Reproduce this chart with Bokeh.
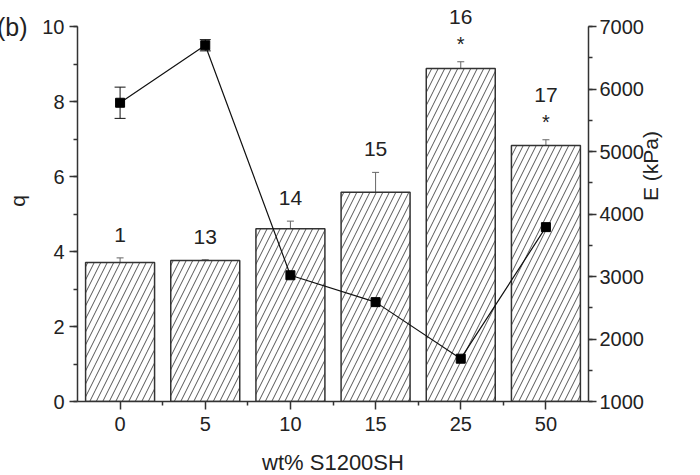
import math
from bokeh.plotting import figure
from bokeh.models import (ColumnDataSource, Range1d, LinearAxis, FixedTicker, SingleIntervalTicker,
                          Whisker, TeeHead, LabelSet)
from bokeh.core.properties import value
from bokeh.embed import file_html
from bokeh.resources import INLINE

categories = ["0", "5", "10", "15", "25", "50"]
q_values = [3.71, 3.76, 4.61, 5.58, 8.88, 6.83]
q_errors = [0.12, 0.02, 0.20, 0.53, 0.18, 0.15]
E_values = [5780, 6700, 3020, 2590, 1685, 3790]
E_errors = [250, 90, 60, 80, 30, 210]
sample_labels = ["1", "13", "14", "15", "16", "17"]
sig_marks = ["", "", "", "", "*", "*"]

FONT = "Liberation Sans"
TXT = "#222222"
AX = "#333333"

idx = list(range(len(categories)))
q_up = [v + e for v, e in zip(q_values, q_errors)]
q_lo = [v - e for v, e in zip(q_values, q_errors)]
E_up = [v + e for v, e in zip(E_values, E_errors)]
E_lo = [v - e for v, e in zip(E_values, E_errors)]
lab_off = [45 if s else 23 for s in sig_marks]

src = ColumnDataSource(dict(x=idx, q=q_values, q_up=q_up, q_lo=q_lo, E=E_values,
                            E_up=E_up, E_lo=E_lo, lab=sample_labels, star=sig_marks,
                            lab_off=lab_off))

# axes span 0..10 (q) and 1000..7000 (E) over 375 px; frame extends 26 px higher for top labels
PLOT_H = 375
EXTRA = 26
q_top = 10 + 10 * EXTRA / PLOT_H
E_top = 7000 + 6000 * EXTRA / PLOT_H

p = figure(frame_width=511, frame_height=PLOT_H + EXTRA, output_backend="svg",
           toolbar_location=None,
           x_range=Range1d(-0.5, 5.5), y_range=Range1d(0, q_top),
           min_border_left=77, min_border_right=0, min_border_top=0, min_border_bottom=58)
p.extra_y_ranges = {"E": Range1d(1000, E_top)}
p.outline_line_color = None
p.xgrid.visible = False
p.ygrid.visible = False

p.vbar(x="x", top="q", bottom=0, width=0.81, source=src, fill_color="white",
       line_color=AX, line_width=1.5, hatch_pattern="/", hatch_color="#555555",
       hatch_scale=13, hatch_weight=1)

p.add_layout(Whisker(base="x", upper="q_up", lower="q_lo", source=src, line_color="#666666",
                     line_width=1,
                     upper_head=TeeHead(size=7, line_color="#666666", line_width=1),
                     lower_head=TeeHead(size=7, line_color="#666666", line_width=1)))

p.line(x="x", y="E", source=src, y_range_name="E", line_color="#111111", line_width=1.2)
p.add_layout(Whisker(base="x", upper="E_up", lower="E_lo", source=src, y_range_name="E",
                     line_color="#111111", line_width=1,
                     upper_head=TeeHead(size=11, line_color="#111111", line_width=1),
                     lower_head=TeeHead(size=11, line_color="#111111", line_width=1)))
p.scatter(x="x", y="E", source=src, y_range_name="E", marker="square", size=9,
          fill_color="#000000", line_color="#000000")

p.add_layout(LabelSet(x="x", y="q_up", text="lab", source=src, y_offset="lab_off",
                      text_align="center", text_baseline="middle", text_font=value(FONT),
                      text_font_size="21px", text_color=TXT))
p.add_layout(LabelSet(x="x", y="q_up", text="star", source=src, y_offset=18,
                      text_align="center", text_baseline="middle", text_font=value(FONT),
                      text_font_size="20px", text_color=TXT))

xa = p.xaxis[0]
xa.ticker = FixedTicker(ticks=idx, minor_ticks=[i + 0.5 for i in idx[:-1]])
xa.major_label_overrides = {i: c for i, c in zip(idx, categories)}
xa.axis_label = "wt% S1200SH"

ya = p.yaxis[0]
ya.ticker = SingleIntervalTicker(interval=2, num_minor_ticks=2)
ya.bounds = (0, 10)

ra = LinearAxis(y_range_name="E", ticker=SingleIntervalTicker(interval=1000, num_minor_ticks=2),
                bounds=(1000, 7000), axis_label="E (kPa)")
p.add_layout(ra, "right")

# outer left axis: carries the panel tag "(b)" and the q title
oa = LinearAxis(ticker=FixedTicker(ticks=[10], minor_ticks=[]), axis_label="q")
oa.major_label_overrides = {10: "(b)"}
p.add_layout(oa, "left")

for ax in (xa, ya, ra, oa):
    ax.axis_line_color = AX
    ax.axis_line_width = 1.5
    ax.major_tick_line_color = AX
    ax.minor_tick_line_color = AX
    ax.major_tick_line_width = 1.5
    ax.minor_tick_line_width = 1.5
    ax.major_tick_out = 8
    ax.major_tick_in = 0
    ax.minor_tick_out = 4
    ax.minor_tick_in = 0
    ax.major_label_text_font = FONT
    ax.major_label_text_font_size = "20px"
    ax.major_label_text_color = TXT
    ax.axis_label_text_font = FONT
    ax.axis_label_text_font_size = "21px"
    ax.axis_label_text_font_style = "normal"
    ax.axis_label_text_color = TXT

oa.axis_line_color = None
oa.major_tick_line_color = None
oa.minor_tick_line_color = None
oa.major_tick_out = 0
oa.minor_tick_out = 0
oa.major_label_text_font_size = "25px"
oa.major_label_standoff = 12
oa.axis_label_standoff = -35

xa.axis_label_text_font_size = "22px"
xa.major_label_standoff = 7
xa.axis_label_standoff = 16
ya.major_label_standoff = 5
ra.major_label_standoff = 3
ra.axis_label_standoff = 4
if "axis_label_orientation" in ra.properties():
    ra.axis_label_orientation = math.pi / 2

open("out.html", "w").write(file_html(p, INLINE))
